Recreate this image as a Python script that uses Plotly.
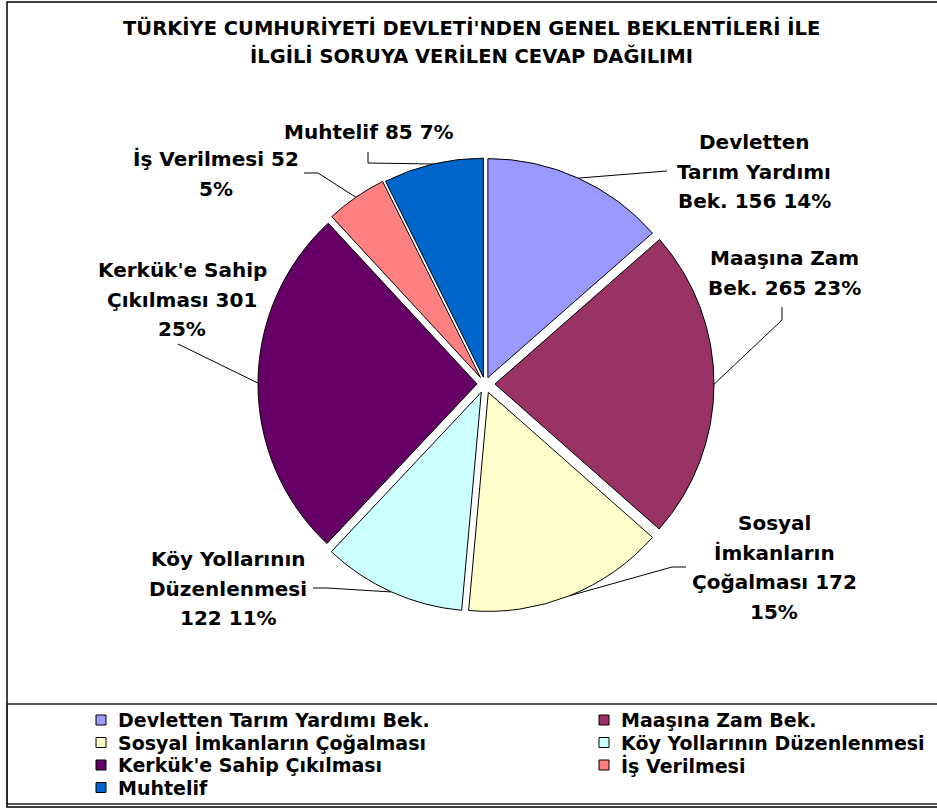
import math
import plotly.graph_objects as go

# ---- data ----
TITLE_LINES = [
    "TÜRKİYE CUMHURİYETİ DEVLETİ'NDEN GENEL BEKLENTİLERİ İLE",
    "İLGİLİ SORUYA VERİLEN CEVAP DAĞILIMI",
]
CATEGORIES = [
    "Devletten Tarım Yardımı Bek.",
    "Maaşına Zam Bek.",
    "Sosyal İmkanların Çoğalması",
    "Köy Yollarının Düzenlenmesi",
    "Kerkük'e Sahip Çıkılması",
    "İş Verilmesi",
    "Muhtelif",
]
COUNTS = [156, 265, 172, 122, 301, 52, 85]
PERCENT_LABELS = ["14%", "23%", "15%", "11%", "25%", "5%", "7%"]

# ---- styling / layout ----
COLORS = ["#9999FF", "#993366", "#FFFFCC", "#CCFFFF", "#660066", "#FF8080", "#0066CC"]
W, H = 937, 811
CX, CY, R = 485, 384, 219           # pie centre and radius (px)
PULL_PX = [7, 10, 9, 9, 8, 8, 7]    # explode distance of each slice (px)

# words per line for each data label
LABEL_BREAKS = [[1, 2, 3], [2, 3], [1, 1, 2, 1], [2, 1, 2], [2, 2, 1], [3, 1], [3]]
# label block centre x and first-line centre y (px)
LABEL_POS = [(754, 142), (784, 258), (774, 523), (228, 559), (182, 270), (216, 159), (369, 132)]
LINE_STEP = 29.5
# leader line points from the label towards the slice (px)
LEADER_POINTS = [
    [(667, 171)],
    [(782, 307), (782, 320)],
    [(686, 567), (672, 567)],
    [(313, 588), (327, 588)],
    [(178, 344)],
    [(304, 173), (318, 173)],
    [(368, 152), (368, 163)],
]

LEG_ROWS = [720, 742.5, 765, 787.5]
LEG_COLS = [(101, 116), (604, 619)]   # (marker centre, text start)

FONT = "DejaVu Sans"

pulls = [p / R for p in PULL_PX]
half = R * (1 + max(pulls))
domain = dict(
    x=[(CX - half) / W, (CX + half) / W],
    y=[1 - (CY + half) / H, 1 - (CY - half) / H],
)

fig = go.Figure()
fig.add_trace(go.Pie(
    values=COUNTS,
    labels=CATEGORIES,
    sort=False,
    direction="clockwise",
    rotation=0,
    pull=pulls,
    marker=dict(colors=COLORS, line=dict(color="black", width=1)),
    textinfo="none",
    hovertemplate="%{label}: %{value}<extra></extra>",
    domain=domain,
    showlegend=False,
))

# slice mid-arc anchor points for the leader lines
total = sum(COUNTS)
cum = 0
annotations = []
shapes = []
for i, v in enumerate(COUNTS):
    mid = (cum + v / 2) / total * 2 * math.pi
    cum += v
    sx, sy = math.sin(mid), -math.cos(mid)
    pcx, pcy = CX + PULL_PX[i] * sx, CY + PULL_PX[i] * sy
    ex, ey = pcx + R * sx, pcy + R * sy
    pts = LEADER_POINTS[i] + [(ex, ey)]
    fig.add_trace(go.Scatter(
        x=[p[0] for p in pts], y=[p[1] for p in pts],
        mode="lines", line=dict(color="black", width=1),
        hoverinfo="skip", showlegend=False,
    ))
    words = f"{CATEGORIES[i]} {v} {PERCENT_LABELS[i]}".split()
    lx, ly = LABEL_POS[i]
    k = 0
    for j, n in enumerate(LABEL_BREAKS[i]):
        line = " ".join(words[k:k + n])
        k += n
        annotations.append(dict(
            x=lx, y=ly + j * LINE_STEP, xref="x", yref="y",
            text=line, showarrow=False, xanchor="center", yanchor="middle",
            font=dict(family=FONT, size=20, color="black", weight="bold"),
        ))

# title
for j, t in enumerate(TITLE_LINES):
    annotations.append(dict(
        x=471, y=28 + j * 28, xref="x", yref="y", text=t, showarrow=False,
        xanchor="center", yanchor="middle",
        font=dict(family=FONT, size=19.5, color="black", weight="bold"),
    ))

# legend entries (two columns, row-major)
for i, name in enumerate(CATEGORIES):
    row, col = divmod(i, 2)
    mx, tx = LEG_COLS[col]
    y = LEG_ROWS[row]
    shapes.append(dict(
        type="rect", xref="x", yref="y",
        x0=mx - 5, x1=mx + 5, y0=y - 5, y1=y + 5,
        fillcolor=COLORS[i], line=dict(color="black", width=1),
    ))
    annotations.append(dict(
        x=tx, y=y, xref="x", yref="y", text=name, showarrow=False,
        xanchor="left", yanchor="middle",
        font=dict(family=FONT, size=19, color="black", weight="bold"),
    ))

# chart frame and legend box
shapes.append(dict(type="rect", xref="x", yref="y", x0=7, x1=950, y0=2, y1=807,
                   line=dict(color="black", width=1.5)))
shapes.append(dict(type="rect", xref="x", yref="y", x0=7, x1=950, y0=704, y1=804,
                   line=dict(color="#222222", width=1.5)))

fig.update_layout(
    width=W, height=H,
    margin=dict(l=0, r=0, t=0, b=0, autoexpand=False),
    paper_bgcolor="white", plot_bgcolor="white",
    xaxis=dict(range=[0, W], visible=False, fixedrange=True, domain=[0, 1]),
    yaxis=dict(range=[H, 0], visible=False, fixedrange=True, domain=[0, 1]),
    annotations=annotations,
    shapes=shapes,
    showlegend=False,
)

fig.write_html("out.html")
